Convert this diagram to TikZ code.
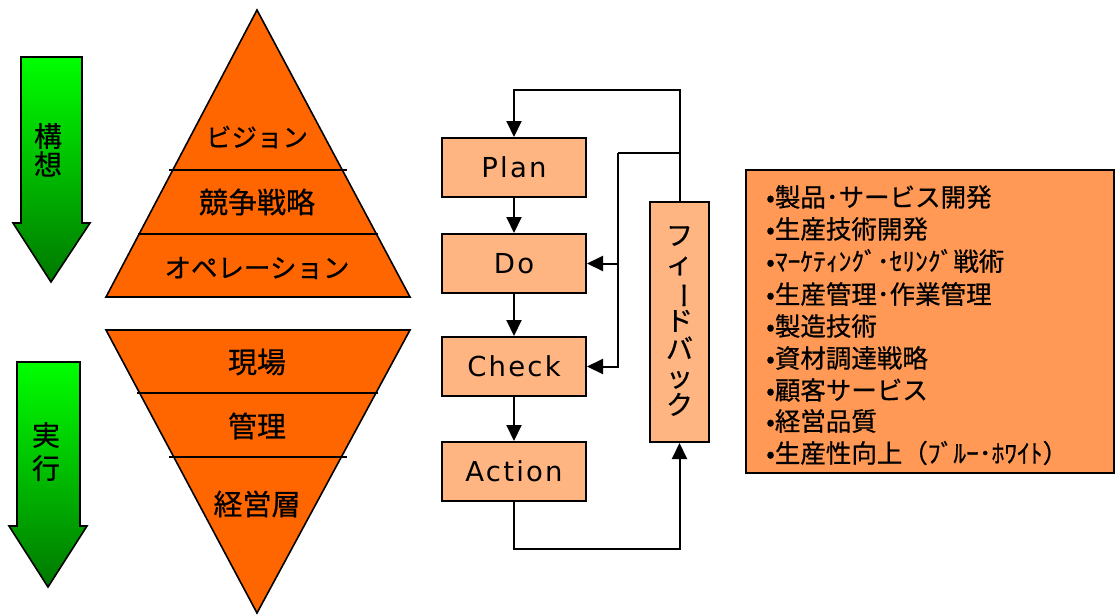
\documentclass[tikz,border=0pt]{standalone}
\usepackage{fontspec}
\setmainfont{Noto Sans CJK JP}[FakeBold=0.6]
\newfontfamily\latinfont{DejaVu Sans}[LetterSpace=8]
\usepackage{graphicx}
\usetikzlibrary{arrows.meta}
\definecolor{pyr}{RGB}{255,102,0}
\definecolor{boxc}{RGB}{255,181,130}
\definecolor{listc}{RGB}{255,153,85}
\definecolor{gtop}{RGB}{0,255,0}
\definecolor{gbot}{RGB}{0,120,0}
\tikzset{
  pyramid/.style={fill=pyr, draw=black, line width=1.6pt, line join=miter},
  sepline/.style={line width=1.6pt},
  ptext/.style={font=\fontsize{29}{30}\selectfont, inner sep=0pt},
  pkana/.style={font=\fontsize{26.5}{28}\selectfont, inner sep=0pt},
  garrow/.style={top color=gtop, bottom color=gbot, draw=black, line width=1.6pt},
  gtext/.style={font=\fontsize{28}{28}\selectfont, inner sep=0pt},
  pdca/.style={draw=black, fill=boxc, line width=2pt, minimum width=144pt, minimum height=59pt, inner sep=0pt, font=\latinfont\fontsize{27.5}{29}\selectfont},
  fbbox/.style={draw=black, fill=boxc, line width=2pt, minimum width=59pt, minimum height=240pt, inner sep=0pt},
  conn/.style={line width=2pt},
  arr/.style={line width=2pt, -{Triangle[length=16pt,width=15pt]}},
  litem/.style={anchor=west, inner sep=0pt, font=\fontsize{25.5}{27}\selectfont}
}
\begin{document}
\begin{tikzpicture}[x=1pt,y=-1pt]
\useasboundingbox (0,0) rectangle (1117,614);

% green arrows
\draw[garrow] (21,57) -- (82,57) -- (82,223) -- (90,223) -- (51,282) -- (13,223) -- (21,223) -- cycle;
\node[gtext] (k1) at (48,136) {構};
\node[gtext] (k2) at (48,164) {想};
\draw[garrow] (17,362) -- (80,362) -- (80,526) -- (87,526) -- (48,587) -- (9,526) -- (17,526) -- cycle;
\node[gtext] (j1) at (46,435) {実};
\node[gtext] (j2) at (46,468) {行};

% top pyramid
\draw[pyramid] (257,10) -- (410,297) -- (106,297) -- cycle;
\draw[sepline] (169,170) -- (347,170);
\draw[sepline] (138,234) -- (378,234);
\node[pkana, font=\fontsize{25.5}{27}\selectfont] (vision) at (257,137) {ビジョン};
\node[ptext] (strat) at (257,202) {競争戦略};
\node[pkana] (oper) at (257,268) {オペレーション};

% bottom pyramid
\draw[pyramid] (106,330) -- (410,330) -- (257,613) -- cycle;
\draw[sepline] (137,393) -- (378,393);
\draw[sepline] (169,457) -- (347,457);
\node[ptext] (genba) at (257,362) {現場};
\node[ptext] (kanri) at (257,426) {管理};
\node[ptext] (keiei) at (257,504) {経営層};

% PDCA
\node[pdca] (plan) at (514,167.5) {Plan};
\node[pdca] (do) at (514,263.5) {Do};
\node[pdca] (check) at (514,366.5) {Check};
\node[pdca] (action) at (514,471.5) {Action};
\node[fbbox] (fb) at (679.5,322) {};
\node[align=center, inner sep=0pt, font=\fontsize{27}{28}\selectfont] (fbtext) at (679.5,321) {フ\\ィ\\\rotatebox[origin=c]{-90}{ー}\\ド\\バ\\ッ\\ク};

\draw[arr] (plan) -- (do);
\draw[arr] (do) -- (check);
\draw[arr] (check) -- (action);

\coordinate (top) at (679.5,90);
\draw[arr] (fb.north) -- (top) -| (plan.north);
\coordinate (ja) at (679.5,153);
\coordinate (jb) at (618,153);
\draw[conn] (ja) -- (jb);
\draw[arr] (jb) |- (check.east);
\draw[arr] (jb |- do.east) -- (do.east);
\coordinate (bot) at (679.5,549);
\draw[arr] (action.south) |- (bot) -- (fb.south);

% list box
\node[draw=black, fill=listc, line width=2pt, minimum width=368pt, minimum height=303pt, inner sep=0pt] (list) at (930,321.5) {};
\node[litem] (l1) at (766,197) {•製品･サービス開発};
\node[litem] (l2) at (766,229) {•生産技術開発};
\node[litem] (l3) at (766,261) {•ﾏｰｹﾃｨﾝｸﾞ･ｾﾘﾝｸﾞ戦術};
\node[litem] (l4) at (766,294) {•生産管理･作業管理};
\node[litem] (l5) at (766,326) {•製造技術};
\node[litem] (l6) at (766,358) {•資材調達戦略};
\node[litem] (l7) at (766,390) {•顧客サービス};
\node[litem] (l8) at (766,421) {•経営品質};
\node[litem] (l9) at (766,453) {•生産性向上（ﾌﾞﾙｰ･ﾎﾜｲﾄ）};
\end{tikzpicture}
\end{document}
